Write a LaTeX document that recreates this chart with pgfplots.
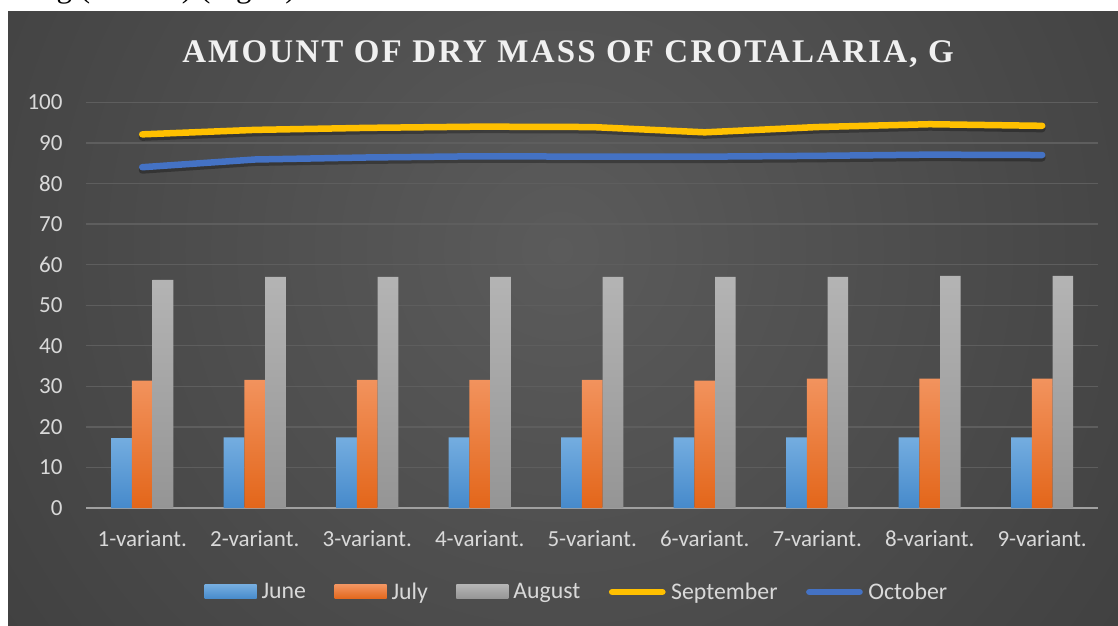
\documentclass[border=0pt]{standalone}
\usepackage{pgfplots}
\pgfplotsset{compat=1.18}
\usepackage{fontspec}
\setmainfont{Carlito}
\newfontfamily\titlefont[LetterSpace=6.6]{Liberation Serif}
\newfontfamily\docfont{Liberation Serif}
\definecolor{bgc}{HTML}{5B5B5B}
\definecolor{bge}{HTML}{2A2A2A}
\definecolor{gridc}{HTML}{5E5E5E}
\definecolor{basec}{HTML}{A0A0A0}
\definecolor{labc}{HTML}{D9D9D9}
\definecolor{titlec}{HTML}{F0F0F0}
\definecolor{junetop}{HTML}{74ADE0}
\definecolor{junebot}{HTML}{468ACB}
\definecolor{julytop}{HTML}{F2935E}
\definecolor{julybot}{HTML}{E3661A}
\definecolor{augtop}{HTML}{B4B4B4}
\definecolor{augbot}{HTML}{959595}
\definecolor{sepc}{HTML}{FFC000}
\definecolor{octc}{HTML}{4472C4}
\pgfdeclareradialshading{chartbg}{\pgfpoint{0bp}{0bp}}{color(0bp)=(bgc); color(44bp)=(bge); color(50bp)=(bge)}

\pgfplotstableread{
x june july aug sep oct
0 17.2 31.4 56.2 92.1 84.0
1 17.4 31.6 57.0 93.2 85.9
2 17.4 31.6 57.0 93.7 86.4
3 17.4 31.6 57.0 94.0 86.7
4 17.4 31.6 57.0 93.9 86.6
5 17.4 31.4 57.0 92.6 86.6
6 17.4 31.9 57.0 93.9 86.8
7 17.4 31.9 57.2 94.6 87.1
8 17.4 31.9 57.2 94.2 87.0
}\datatable

\begin{document}
\begin{tikzpicture}[x=1pt,y=1pt]
\fill[white] (0,0) rectangle (1118,625);
\begin{scope}
\clip (0,0) rectangle (1118,625);
\node[anchor=base west, inner sep=0pt, font=\docfont\fontsize{31}{37}\selectfont] at (41,627) {ng (Table 1) (Fig. 1)};
\end{scope}
\begin{scope}
\clip (8,0) rectangle (1118,613);
\shade[shading=chartbg] (560,375) circle (720);
\end{scope}
\node[anchor=base, inner sep=0pt, font=\titlefont\bfseries\fontsize{33}{40}\selectfont, text=titlec] at (568,562.7) {AMOUNT OF DRY MASS OF CROTALARIA, G};

\begin{axis}[
  at={(86pt,117pt)}, anchor=south west,
  scale only axis, width=1012.5pt, height=405.7pt,
  xmin=-0.5, xmax=8.5, ymin=0, ymax=100,
  axis line style={draw=none},
  tick style={draw=none},
  xtick={0,...,8},
  xticklabels={1-variant.,2-variant.,3-variant.,4-variant.,5-variant.,6-variant.,7-variant.,8-variant.,9-variant.},
  ytick={10,20,...,100},
  extra y ticks={0},
  extra y tick style={grid style={color=basec, line width=2.2pt}},
  ymajorgrids,
  grid style={color=gridc, line width=1.3pt},
  /pgf/number format/assume math mode=true,
  tick label style={font=\fontsize{23}{27}\selectfont, text=labc},
  yticklabel style={anchor=east, inner sep=0pt, xshift=-23.3pt},
  xticklabel style={anchor=base, inner sep=0pt, yshift=-38.7pt},
  legend columns=5,
  legend style={draw=none, fill=none, at={(0.117,-0.207)}, anchor=west, inner sep=0pt,
    font=\fontsize{23.8}{28}\selectfont, text=labc,
    nodes={inner sep=0pt},
    /tikz/every even column/.append style={column sep=28.5pt}},
]
\addplot[ybar, bar width=20.7pt, bar shift=-20.7pt, draw=none, top color=junetop, bottom color=junebot,
  legend image code/.code={\shade[top color=junetop, bottom color=junebot] (0pt,-7pt) rectangle (52pt,7pt); \path (57pt,0pt);}]
  table[x=x, y=june] {\datatable};
\addlegendentry{June}
\addplot[ybar, bar width=20.7pt, bar shift=0pt, draw=none, top color=julytop, bottom color=julybot,
  legend image code/.code={\shade[top color=julytop, bottom color=julybot] (0pt,-7pt) rectangle (52pt,7pt); \path (57pt,0pt);}]
  table[x=x, y=july] {\datatable};
\addlegendentry{July}
\addplot[ybar, bar width=20.7pt, bar shift=20.7pt, draw=none, top color=augtop, bottom color=augbot,
  legend image code/.code={\shade[top color=augtop, bottom color=augbot] (0pt,-7pt) rectangle (52pt,7pt); \path (57pt,0pt);}]
  table[x=x, y=aug] {\datatable};
\addlegendentry{August}
\addplot[forget plot, black, opacity=0.3, line width=7pt, line cap=round, line join=round, no markers, transform canvas={yshift=-3pt}]
  table[x=x, y=sep] {\datatable};
\addplot[sepc, line width=6.5pt, line cap=round, line join=round, no markers,
  legend image code/.code={\draw[line width=6.5pt, line cap=round, color=sepc] (3.2pt,0pt) -- (53.4pt,0pt); \path (59pt,0pt);}]
  table[x=x, y=sep] {\datatable};
\addlegendentry{September}
\addplot[forget plot, black, opacity=0.3, line width=7pt, line cap=round, line join=round, no markers, transform canvas={yshift=-3pt}]
  table[x=x, y=oct] {\datatable};
\addplot[octc, line width=6.5pt, line cap=round, line join=round, no markers,
  legend image code/.code={\draw[line width=6.5pt, line cap=round, color=octc] (3.2pt,0pt) -- (53.4pt,0pt); \path (59pt,0pt);}]
  table[x=x, y=oct] {\datatable};
\addlegendentry{October}
\end{axis}
\pgfresetboundingbox
\useasboundingbox (0,0) rectangle (1118,625);
\end{tikzpicture}
\end{document}
